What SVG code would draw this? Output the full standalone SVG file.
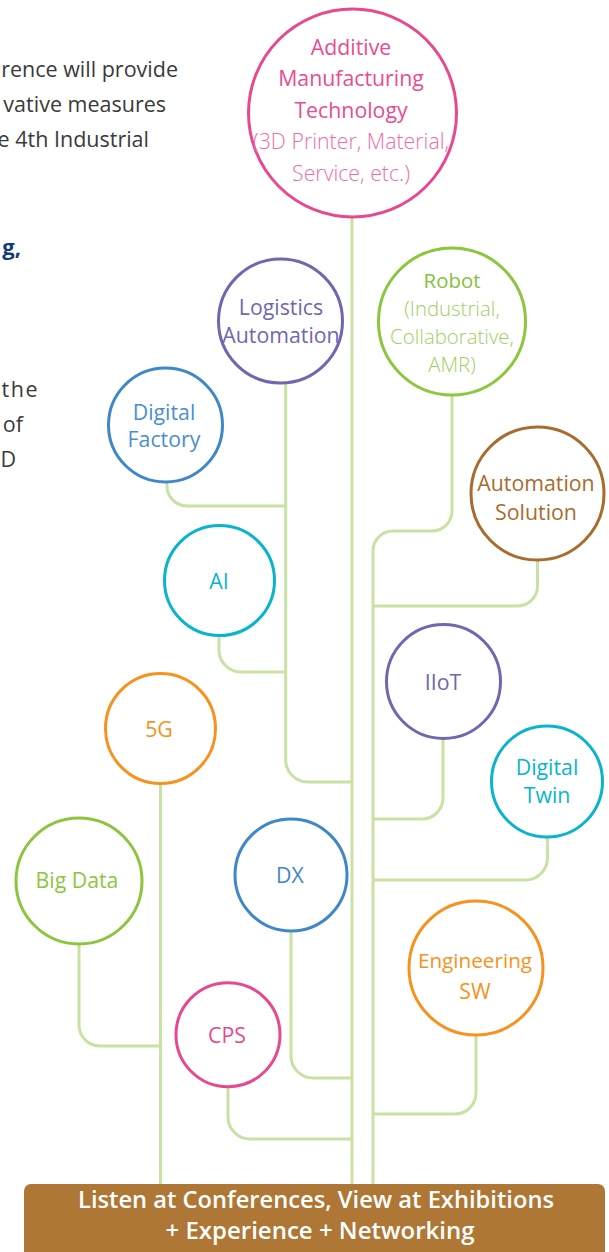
<svg xmlns="http://www.w3.org/2000/svg" width="609" height="1252" viewBox="0 0 609 1252">
<style>
text{font-family:"Open Sans","Liberation Sans",sans-serif;}
.n{font-size:21.3px;text-anchor:middle;}
.lt{font-weight:300;}
.rb{font-size:20.4px;}
.c{fill:#fff;stroke-width:3;}
.con{fill:none;stroke:#c7e2a3;stroke-width:3;}
.side{font-size:21.5px;fill:#3a3a3a;text-anchor:end;}
.bar{font-size:23px;font-weight:600;fill:#fff;text-anchor:middle;}
</style>
<rect width="609" height="1252" fill="#fff"/>
<g id="side-text">
<text class="side" x="178" y="77">rence will provide</text>
<text class="side" x="166" y="112">vative measures</text>
<text class="side" x="149" y="147">e 4th Industrial</text>
<text x="21" y="255" style="font-size:22px;font-weight:700;fill:#163b7a;text-anchor:end">g,</text>
<text class="side" x="39" y="397" letter-spacing="1.5">the</text>
<text class="side" x="23" y="432">of</text>
<text class="side" x="16" y="467">D</text>
</g>
<g id="connectors">
<path class="con" d="M352 218 V1185"/>
<path class="con" d="M285.7 384 V760 A22 22 0 0 0 307.7 782 H352"/>
<path class="con" d="M167 483 V486 A20 20 0 0 0 187 506 H286"/>
<path class="con" d="M219 636 V650 A22 22 0 0 0 241 672 H286"/>
<path class="con" d="M452 396 V511 A20 20 0 0 1 432 531 H393 A20 20 0 0 0 373 551 V1185"/>
<path class="con" d="M537.5 561 V586 A20 20 0 0 1 517.5 606 H373"/>
<path class="con" d="M443 739 V798 A21 21 0 0 1 422 819 H373"/>
<path class="con" d="M547.5 837 V858 A22 22 0 0 1 525.5 880 H373"/>
<path class="con" d="M476 1035 V1093 A21 21 0 0 1 455 1114 H373"/>
<path class="con" d="M160.5 784 V1185"/>
<path class="con" d="M79 944 V1025 A21 21 0 0 0 100 1046 H160"/>
<path class="con" d="M291 931 V1056 A22 22 0 0 0 313 1078 H352"/>
<path class="con" d="M228 1087 V1117 A22 22 0 0 0 250 1139 H352"/>
</g>
<g id="additive">
<circle class="c" cx="352.5" cy="113" r="104" stroke="#e8488e"/>
<text class="n" x="351" y="55" fill="#ea4b92">Additive</text>
<text class="n" x="351" y="86" fill="#ea4b92">Manufacturing</text>
<text class="n" x="351" y="118" fill="#ea4b92">Technology</text>
<text class="n lt" x="351" y="149" fill="#ef6ea9">(3D Printer, Material,</text>
<text class="n lt" x="351" y="181" fill="#ef6ea9">Service, etc.)</text>
</g>
<g id="logistics">
<circle class="c" cx="280.5" cy="321" r="62" stroke="#7166b0"/>
<text class="n" x="281" y="315" fill="#7166b0">Logistics</text>
<text class="n" x="281" y="343" fill="#7166b0">Automation</text>
</g>
<g id="robot">
<circle class="c" cx="452" cy="321.5" r="73.5" stroke="#8cc63e"/>
<text class="n rb" x="452" y="288" fill="#85c23c">Robot</text>
<text class="n lt rb" x="452" y="316" fill="#9fd062">(Industrial,</text>
<text class="n lt rb" x="452" y="344" fill="#9fd062">Collaborative,</text>
<text class="n lt rb" x="452" y="372" fill="#9fd062">AMR)</text>
</g>
<g id="digital-factory">
<circle class="c" cx="165.5" cy="425" r="57" stroke="#3e87c8"/>
<text class="n" x="164" y="420" fill="#4a8fd0">Digital</text>
<text class="n" x="164" y="447" fill="#4a8fd0">Factory</text>
</g>
<g id="automation-solution">
<circle class="c" cx="537.5" cy="493.5" r="66.5" stroke="#a86c2e"/>
<text class="n" x="536" y="491" fill="#a86c2e">Automation</text>
<text class="n" x="536" y="520" fill="#a86c2e">Solution</text>
</g>
<g id="ai">
<circle class="c" cx="219.5" cy="580.5" r="55" stroke="#09b4cc"/>
<text class="n" x="219" y="589" fill="#09b4cc">AI</text>
</g>
<g id="iiot">
<circle class="c" cx="443.5" cy="681.5" r="57" stroke="#7166b0"/>
<text class="n" x="443" y="690" fill="#7166b0">IIoT</text>
</g>
<g id="5g">
<circle class="c" cx="160.5" cy="728.5" r="55" stroke="#f7921e"/>
<text class="n" x="159" y="737" fill="#f7921e">5G</text>
</g>
<g id="digital-twin">
<circle class="c" cx="547" cy="781.5" r="55.5" stroke="#09b4cc"/>
<text class="n" x="547" y="775" fill="#09b4cc">Digital</text>
<text class="n" x="547" y="803" fill="#09b4cc">Twin</text>
</g>
<g id="big-data">
<circle class="c" cx="79" cy="881" r="63" stroke="#8cc63e"/>
<text class="n" x="77" y="888" fill="#8cc63e">Big Data</text>
</g>
<g id="dx">
<circle class="c" cx="291" cy="875" r="56" stroke="#3e87c8"/>
<text class="n" x="290" y="883" fill="#3e87c8">DX</text>
</g>
<g id="engineering-sw">
<circle class="c" cx="476" cy="968" r="67" stroke="#f7921e"/>
<text class="n" x="475" y="968" fill="#f7921e" style="font-size:20.7px">Engineering</text>
<text class="n" x="475" y="999" fill="#f7921e">SW</text>
</g>
<g id="cps">
<circle class="c" cx="228" cy="1034.7" r="52" stroke="#e8488e"/>
<text class="n" x="227" y="1043" fill="#e8488e">CPS</text>
</g>
<g id="bottom-bar">
<rect x="24" y="1184" width="581" height="80" rx="7" fill="#af7735"/>
<text class="bar" x="316" y="1208" textLength="476" lengthAdjust="spacingAndGlyphs">Listen at Conferences, View at Exhibitions</text>
<text class="bar" x="320" y="1239" textLength="309" lengthAdjust="spacingAndGlyphs">+ Experience + Networking</text>
</g>
</svg>
